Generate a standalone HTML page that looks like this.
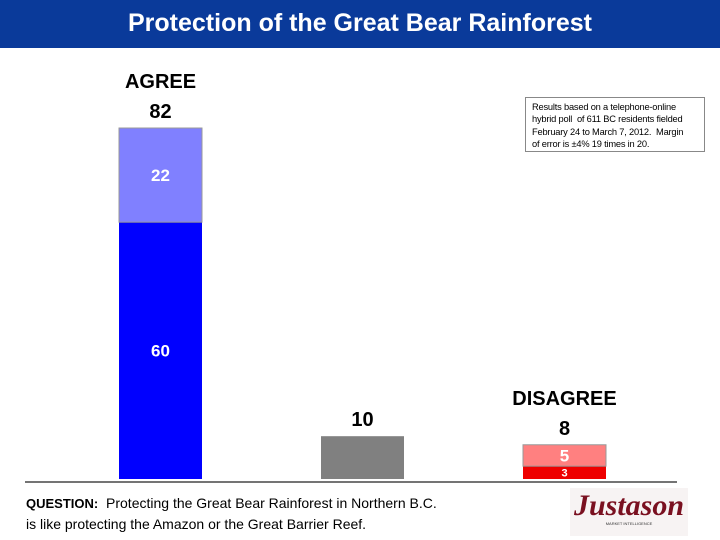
<!DOCTYPE html>
<html><head><meta charset="utf-8"><style>
body{margin:0;width:720px;height:540px;background:#fff;font-family:"Liberation Sans",sans-serif;position:relative;overflow:hidden}
</style></head><body>
<div style="position:absolute;left:0;top:0;width:720px;height:48px;background:#0a3a9a;color:#fff;font-weight:bold;font-size:25px;text-align:center;line-height:46px">Protection of the Great Bear Rainforest</div>
<div style="position:absolute;left:525px;top:97px;width:180px;height:55px;border:1px solid #888;font-size:9.3px;line-height:12.3px;padding:3px 0 0 6px;box-sizing:border-box;white-space:nowrap;letter-spacing:-0.2px">Results based on a telephone-online<br>hybrid poll&nbsp; of 611 BC residents fielded<br>February 24 to March 7, 2012.&nbsp; Margin<br>of error is ±4% 19 times in 20.</div>
<svg id="chart" width="720" height="540" style="position:absolute;left:0;top:0"></svg>
<div style="position:absolute;left:26px;top:493px;font-size:14px;line-height:20px;color:#000"><b style="font-size:13px">QUESTION:</b>&nbsp; Protecting the Great Bear Rainforest in Northern B.C.<br>is like protecting the Amazon or the Great Barrier Reef.</div>
<div style="position:absolute;left:570px;top:488px;width:118px;height:48px;background:#f7f3f3">
<div style="font-family:'Liberation Serif',serif;font-style:italic;font-weight:bold;color:#7a1020;font-size:30px;text-align:center;line-height:36px">Justason</div>
<div style="font-size:4px;text-align:center;color:#333;margin-top:-3px">MARKET INTELLIGENCE</div></div>
<script>
const categories=["agree","neutral","disagree"];
const strongValues=[60,10,3];
const somewhatValues=[22,0,5];
const totalLabels=["82","10","8"];
const headers=["AGREE","","DISAGREE"];
const svg=document.getElementById('chart');
const NS='http://www.w3.org/2000/svg';
const base=479, scale=351/82;
function y(v){return base-v*scale;}
function x(i){return 119+i*202;}
const bw=83;
const strongColors=["#0000ff","#808080","#ee0000"];
const softColors=["#8080ff","#808080","#ff8080"];
function mk(tag,attrs){const e=document.createElementNS(NS,tag);for(const k in attrs)e.setAttribute(k,attrs[k]);svg.appendChild(e);return e;}
categories.forEach((c,i)=>{
  const s=strongValues[i], w=somewhatValues[i];
  let r=mk('rect',{x:x(i),y:y(s),width:bw,height:s*scale,fill:strongColors[i]});
  
  
  if(w>0){
    let r2=mk('rect',{x:x(i),y:y(s+w),width:bw,height:w*scale,fill:softColors[i],stroke:'#999','stroke-width':1});
    
    
  }
  if(w>0){
    const fs=s*scale<20?11:17;
    let t=mk('text',{x:x(i)+bw/2,y:y(s/2)+fs*0.36,'text-anchor':'middle',fill:'#fff','font-weight':'bold','font-size':fs});
    t.textContent=s;
    
    
    let t2=mk('text',{x:x(i)+bw/2,y:y(s+w/2)+6,'text-anchor':'middle',fill:'#fff','font-weight':'bold','font-size':17});
    t2.textContent=w;
    
    
  }
  const top=y(s+w);
  let tl=mk('text',{x:x(i)+bw/2,y:top-10,'text-anchor':'middle',fill:'#000','font-weight':'bold','font-size':20});
  tl.textContent=totalLabels[i];
  
  
  if(headers[i]){
    let h=mk('text',{x:x(i)+bw/2,y:top-40,'text-anchor':'middle',fill:'#000','font-weight':'bold','font-size':20});
    h.textContent=headers[i];
    
    
  }
});
let ax=mk('line',{x1:25,x2:677,y1:482,y2:482,stroke:'#222','stroke-width':1.3});


</script>
</body></html>
